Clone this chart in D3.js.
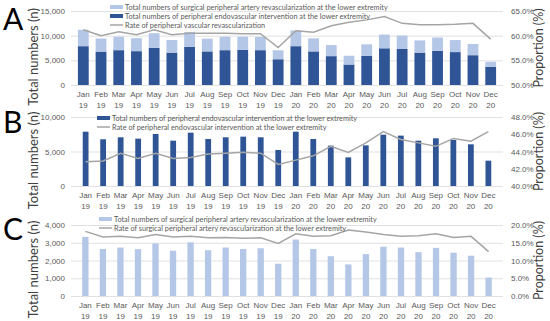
<!DOCTYPE html>
<html>
<head>
<meta charset="utf-8">
<script src="https://cdn.jsdelivr.net/npm/d3@7"></script>
<style>
  body { margin: 0; background: #fff; }
  svg { display: block; font-family: Lato, "Open Sans", sans-serif; }
</style>
</head>
<body>
<svg id="chart" width="550" height="321"></svg>
<script>
// month labels
const months = ['Jan 19', 'Feb 19', 'Mar 19', 'Apr 19', 'May 19', 'Jun 19', 'Jul 19', 'Aug 19', 'Sep 19', 'Oct 19', 'Nov 19', 'Dec 19',
    'Jan 20', 'Feb 20', 'Mar 20', 'Apr 20', 'May 20', 'Jun 20', 'Jul 20', 'Aug 20', 'Sep 20', 'Oct 20', 'Nov 20', 'Dec 20'];

// peripheral endovascular intervention (n)
const endovascular = [7870, 6770, 7060, 6860, 7540, 6570, 7730, 6810, 7060, 7150, 7060, 5220,
    7870, 6810, 5850, 4150, 5890, 7440, 7300, 6570, 6910, 6670, 6040, 3670];
// surgical peripheral artery revascularization (n)
const surgical = [3330, 2650, 2730, 2640, 2960, 2550, 3020, 2580, 2730, 2650, 2690, 1820,
    3180, 2650, 2240, 1780, 2360, 2780, 2730, 2470, 2710, 2440, 2270, 1040];

// rates (%)
const rateAll = [61.2, 60.0, 60.8, 60.2, 61.2, 60.2, 60.5, 60.5, 60.5, 60.4, 60.4, 57.6,
    61.0, 60.7, 62.0, 62.7, 63.2, 63.9, 62.5, 62.2, 62.2, 62.3, 62.5, 59.3];
const rateEndo = [42.8, 42.9, 43.8, 43.2, 43.8, 43.2, 43.3, 43.7, 43.8, 43.9, 43.8, 42.5,
    43.0, 43.5, 44.6, 43.9, 45.0, 46.3, 45.4, 45.0, 44.6, 45.5, 45.2, 46.3];
const rateSurg = [18.2, 16.6, 16.8, 16.4, 17.3, 16.6, 16.8, 16.4, 16.5, 16.3, 16.4, 14.8,
    17.5, 16.8, 17.0, 18.6, 18.0, 17.3, 16.8, 17.0, 17.5, 16.5, 16.8, 12.5];

// tick values
const ticksA = [0, 5000, 10000, 15000];
const ticksARight = [50, 55, 60, 65];
const ticksB = [0, 5000, 10000];
const ticksBRight = [40, 42, 44, 46, 48];
const ticksC = [0, 1000, 2000, 3000, 4000];
const ticksCRight = [0, 5, 10, 15, 20];

const DARK = '#2f5597';
const LIGHT = '#b4c7e7';
const LINE = '#a5a5a5';
const GRID = '#d9d9d9';
const TXT = '#595959';

const svg = d3.select('#chart');
const x0 = 71, x1 = 503;

function panel(opt) {
    const g = svg.append('g');
    const x = d3.scaleBand().domain(months).range([x0, x1]).padding(opt.pad);
    const y = d3.scaleLinear().domain(opt.yDomain).range([opt.bottom, opt.top]);
    const yR = d3.scaleLinear().domain(opt.rDomain).range([opt.bottom, opt.top]);

    // gridlines
    g.append('g')
        .attr('transform', `translate(${x0},0)`)
        .call(d3.axisLeft(y).tickValues(opt.ticks).tickSize(-(x1 - x0)).tickFormat(''))
        .call(s => s.select('.domain').remove())
        .call(s => s.selectAll('line').attr('stroke', GRID).attr('stroke-width', 0.8));

    // left axis
    g.append('g')
        .attr('transform', `translate(${x0 - 5},0)`)
        .call(d3.axisLeft(y).tickValues(opt.ticks).tickSize(0).tickPadding(1).tickFormat(d3.format(',')))
        .call(s => s.select('.domain').remove())
        .call(s => s.selectAll('text').attr('fill', TXT).style('font-size', '8px'));

    // right axis
    g.append('g')
        .attr('transform', `translate(${x1 + 8},0)`)
        .call(d3.axisRight(yR).tickValues(opt.rTicks).tickSize(0).tickPadding(0).tickFormat(d => d3.format('.1f')(d) + '%'))
        .call(s => s.select('.domain').remove())
        .call(s => s.selectAll('text').attr('fill', TXT).style('font-size', '8px'));

    // x axis, two line labels
    const xa = g.append('g')
        .attr('transform', `translate(0,${opt.bottom})`)
        .call(d3.axisBottom(x).tickSize(0).tickPadding(0).tickFormat(''))
        .call(s => s.select('.domain').remove());
    xa.selectAll('.tick text')
        .attr('fill', TXT).style('font-size', '8px').attr('dy', null).attr('y', 0)
        .each(function (d) {
            const parts = d.split(' ');
            const t = d3.select(this);
            t.append('tspan').attr('x', 0).attr('y', 12).text(parts[0]);
            t.append('tspan').attr('x', 0).attr('y', 23).text(parts[1]);
        });

    // bars
    opt.stacks.forEach(st => {
        g.append('g').selectAll('rect')
            .data(months)
            .join('rect')
            .attr('x', d => x(d))
            .attr('width', x.bandwidth())
            .attr('y', (d, i) => y(st.hi[i]))
            .attr('height', (d, i) => y(st.lo[i]) - y(st.hi[i]))
            .attr('fill', st.color);
    });

    // rate line
    const line = d3.line()
        .x((d, i) => x(months[i]) + x.bandwidth() / 2)
        .y(d => yR(d));
    g.append('path')
        .datum(opt.rate)
        .attr('d', line)
        .attr('fill', 'none')
        .attr('stroke', LINE)
        .attr('stroke-width', 1.5);

    // panel letter
    g.append('text')
        .attr('x', 3).attr('y', opt.letterY)
        .style('font-size', '30px').attr('fill', '#000')
        .text(opt.letter);

    // axis titles
    const mid = (opt.top + opt.bottom) / 2 + 9;
    g.append('text')
        .attr('transform', `translate(38,${mid}) rotate(-90)`)
        .attr('text-anchor', 'middle')
        .style('font-size', '13px').attr('fill', '#404040')
        .text('Total numbers (n)');
    g.append('text')
        .attr('transform', `translate(543,${(opt.top + opt.bottom) / 2}) rotate(-90)`)
        .attr('text-anchor', 'middle')
        .style('font-size', '12.5px').attr('fill', '#404040')
        .text('Proportion (%)');

    // legend
    const lg = g.append('g').attr('transform', `translate(${opt.legendX},${opt.legendY})`);
    opt.legend.forEach((it, i) => {
        const row = lg.append('g').attr('transform', `translate(0,${i * 9})`);
        if (it.type === 'rect') {
            row.append('rect').attr('x', 0).attr('y', -2).attr('width', 13).attr('height', 4).attr('fill', it.color);
        } else {
            row.append('line').attr('x1', 0).attr('x2', 13).attr('y1', 0).attr('y2', 0)
                .attr('stroke', LINE).attr('stroke-width', 1.5);
        }
        row.append('text').attr('x', 15).attr('y', 2.5)
            .style('font-size', '7.3px').attr('fill', TXT)
            .text(it.label);
    });
}

const totals = endovascular.map((v, i) => v + surgical[i]);
const zeros = months.map(() => 0);

panel({
    letter: 'A', letterY: 30, top: 11, bottom: 85, pad: 0.39,
    yDomain: [0, 15000], ticks: ticksA, rDomain: [50, 65], rTicks: ticksARight,
    stacks: [
        { lo: zeros, hi: endovascular, color: DARK },
        { lo: endovascular, hi: totals, color: LIGHT },
    ],
    rate: rateAll,
    legendX: 110, legendY: 7,
    legend: [
        { type: 'rect', color: LIGHT, label: 'Total numbers of surgical peripheral artery revascularization at the lower extremity' },
        { type: 'rect', color: DARK, label: 'Total numbers of peripheral endovascular intervention at the lower extremity' },
        { type: 'line', label: 'Rate of peripheral vascular revascularization' },
    ],
});

panel({
    letter: 'B', letterY: 133, top: 117, bottom: 186, pad: 0.67,
    yDomain: [0, 10000], ticks: ticksB, rDomain: [40, 48], rTicks: ticksBRight,
    stacks: [{ lo: zeros, hi: endovascular, color: DARK }],
    rate: rateEndo,
    legendX: 97, legendY: 118,
    legend: [
        { type: 'rect', color: DARK, label: 'Total numbers of peripheral endovascular intervention at the lower extremity' },
        { type: 'line', label: 'Rate of peripheral endovascular intervention at the lower extremity' },
    ],
});

panel({
    letter: 'C', letterY: 240, top: 225, bottom: 296, pad: 0.64,
    yDomain: [0, 4000], ticks: ticksC, rDomain: [0, 20], rTicks: ticksCRight,
    stacks: [{ lo: zeros, hi: surgical, color: LIGHT }],
    rate: rateSurg,
    legendX: 99, legendY: 219,
    legend: [
        { type: 'rect', color: LIGHT, label: 'Total numbers of surgical peripheral artery revascularization at the lower extremity' },
        { type: 'line', label: 'Rate of surgical peripheral artery revascularization at the lower extremity' },
    ],
});
</script>
</body>
</html>
